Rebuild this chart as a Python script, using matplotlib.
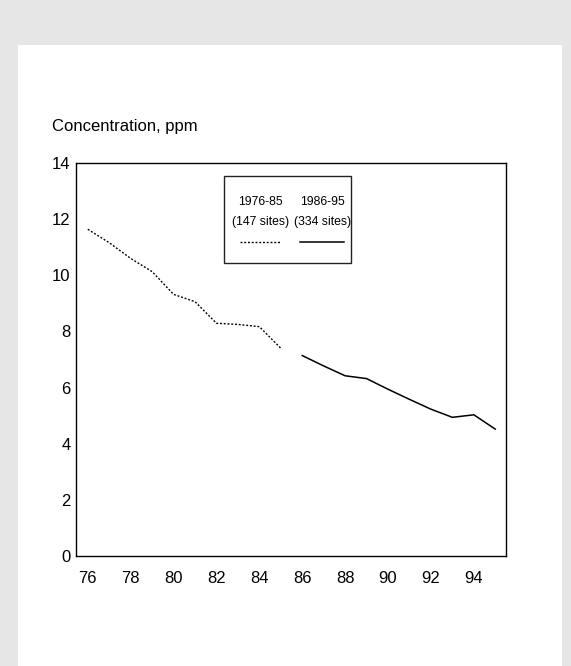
import matplotlib
matplotlib.use("Agg")
import matplotlib.pyplot as plt
from matplotlib.patches import Rectangle

# ---- data ----
years_early = [76, 77, 78, 79, 80, 81, 82, 83, 84, 85]
conc_early = [11.64, 11.16, 10.6, 10.13, 9.32, 9.06, 8.29, 8.25, 8.17, 7.40]
years_late = [86, 87, 88, 89, 90, 91, 92, 93, 94, 95]
conc_late = [7.14, 6.77, 6.42, 6.32, 5.94, 5.58, 5.23, 4.94, 5.03, 4.52]
xticks = [76, 78, 80, 82, 84, 86, 88, 90, 92, 94]
yticks = [0, 2, 4, 6, 8, 10, 12, 14]
legend_periods = ["1976-85", "1986-95"]
legend_sites = ["(147 sites)", "(334 sites)"]
ylabel_text = "Concentration, ppm"

plt.rcParams['font.family'] = ['Liberation Sans', 'DejaVu Sans']

W, H = 571, 666
fig = plt.figure(figsize=(W / 100, H / 100), dpi=100)
fig.patch.set_facecolor('#e6e6e6')
# white panel
fig.patches.append(Rectangle((18 / W, 0), (562 - 18) / W, (666 - 45) / H,
                             transform=fig.transFigure, facecolor='white',
                             edgecolor='none', zorder=-10))

ax = fig.add_axes([76 / W, (666 - 556) / H, (506 - 76) / W, (556 - 163) / H])
ax.set_zorder(1)
ax.set_facecolor('white')
ax.plot(years_early, conc_early, color='black', lw=1.0, linestyle=(0, (1.4, 1.3)))
ax.plot(years_late, conc_late, color='black', lw=1.1, linestyle='-')

ax.set_xlim(75.45, 95.5)
ax.set_ylim(0, 14)
ax.set_xticks(xticks)
ax.set_xticklabels([str(t) for t in xticks])
ax.set_yticks(yticks)
ax.set_yticklabels([str(t) for t in yticks])
ax.tick_params(axis='both', length=0, labelsize=12, colors='black')
ax.tick_params(axis='x', pad=10.5)
ax.tick_params(axis='y', pad=4)
for s in ax.spines.values():
    s.set_color('black')
    s.set_linewidth(1.0)

# legend box drawn manually (text above line samples)
ax.add_patch(Rectangle((0.344, 0.7455), 0.640 - 0.344, 0.9677 - 0.7455,
                       transform=ax.transAxes, facecolor='white',
                       edgecolor='#222222', lw=1.0, zorder=5))
col_x = [0.4295, 0.5744]
for i in range(2):
    ax.text(col_x[i], 0.9015, legend_periods[i], transform=ax.transAxes,
            ha='center', va='center', fontsize=8.8, zorder=6)
    ax.text(col_x[i], 0.8507, legend_sites[i], transform=ax.transAxes,
            ha='center', va='center', fontsize=8.8, zorder=6)
ax.plot([0.3814, 0.4744], [0.7997, 0.7997], transform=ax.transAxes,
        color='black', lw=1.0, linestyle=(0, (1.4, 1.3)), zorder=6)
ax.plot([0.5209, 0.6233], [0.7997, 0.7997], transform=ax.transAxes,
        color='black', lw=1.1, linestyle='-', zorder=6)

fig.text(52 / W, (666 - 126.7) / H, ylabel_text, ha='left', va='center',
         fontsize=12, color='black')

fig.savefig('out.png', dpi=100, facecolor=fig.get_facecolor())
